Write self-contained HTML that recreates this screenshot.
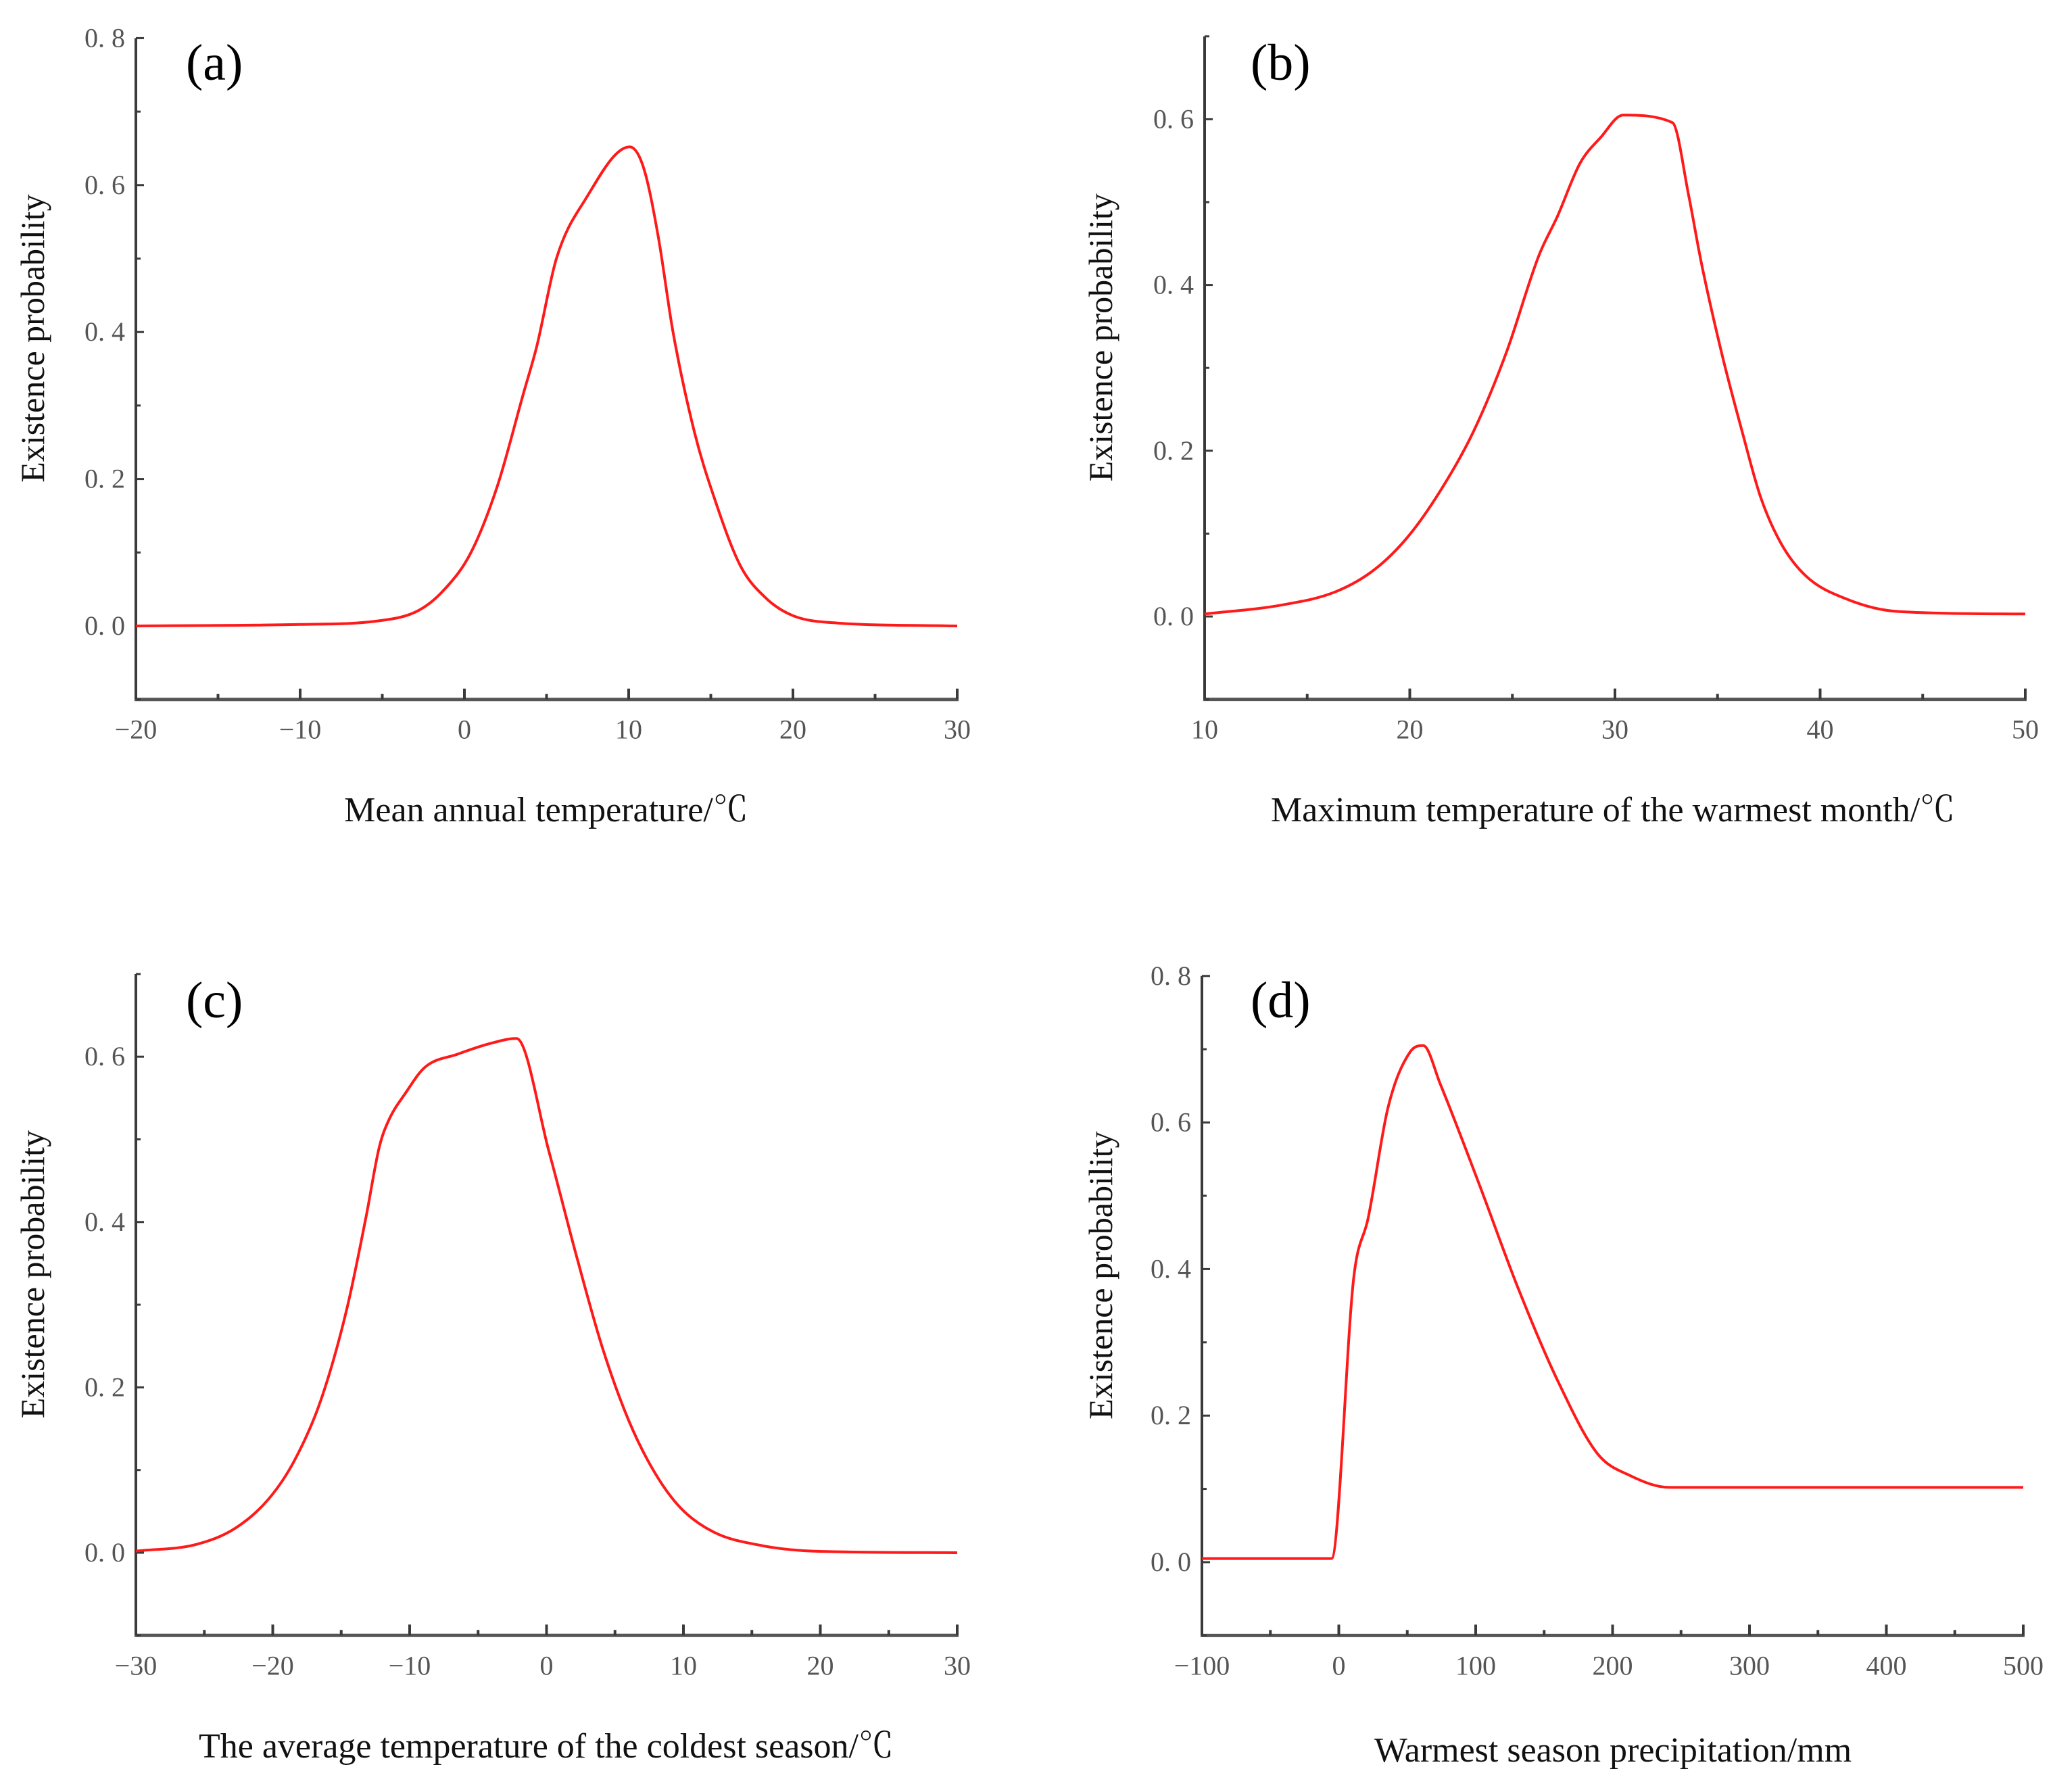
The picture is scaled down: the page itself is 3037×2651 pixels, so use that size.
<!DOCTYPE html>
<html><head><meta charset="utf-8">
<style>
html,body{margin:0;padding:0;background:#fff;}
svg{display:block;}
.tick{font-family:"Liberation Serif",serif;font-size:40px;fill:#555;}
.title{font-family:"Liberation Serif","Noto Serif CJK SC",serif;font-size:52px;fill:#111;}
.ytitle{font-family:"Liberation Serif",serif;font-size:50px;fill:#111;}
.plabel{font-family:"Liberation Serif",serif;font-size:76px;fill:#000;}
</style></head>
<body>
<svg id="chart" width="3037" height="2651" viewBox="0 0 3037 2651" xmlns="http://www.w3.org/2000/svg"></svg>
<script>
// Panel (a) data
const aX = [-20,-10,-5.2,-2.8,-1.2,0.4,2,3.6,4.4,5.6,7.35,10.06,10.9,11.8,12.7,14,15.2,16.8,18.4,20,22.7,30];
const aY = [0,0.002,0.007,0.021,0.05,0.10,0.19,0.317,0.38,0.50,0.58,0.652,0.624,0.53,0.40,0.264,0.175,0.082,0.037,0.014,0.004,0];
// Panel (b) data
const bX = [10,13.8,16.4,18.3,19.9,21.5,23.1,24.7,26.3,27.2,28.3,29.3,30.4,32.8,33.6,34.2,35.2,36.2,37.1,38.1,39.3,41.3,43.8,50];
const bY = [0.003,0.014,0.03,0.057,0.096,0.152,0.223,0.318,0.436,0.483,0.547,0.578,0.605,0.596,0.507,0.428,0.318,0.223,0.144,0.088,0.049,0.021,0.006,0.003];
// Panel (c) data
const cX = [-30,-25.6,-22.7,-20.3,-18.4,-16.5,-14.6,-13.2,-12.2,-11.5,-10.3,-8.9,-6.5,-4.1,-2.2,0.2,2.2,4.1,6.0,7.9,9.8,12.2,15.6,19.4,30];
const cY = [0.002,0.01,0.03,0.065,0.112,0.184,0.294,0.405,0.492,0.524,0.556,0.587,0.603,0.616,0.622,0.484,0.358,0.247,0.16,0.097,0.054,0.025,0.009,0.002,0];
// Panel (d) data
const dX = [-100,-5.3,11,21.5,35.9,52,61.7,74.2,102.9,131.6,160.3,189,213,241.6,500];
const dY = [0.005,0.005,0.39,0.47,0.62,0.696,0.705,0.652,0.514,0.371,0.246,0.148,0.118,0.102,0.102];
// Tick labels
const aXTicks = [-20,-10,0,10,20,30];
const bXTicks = [10,20,30,40,50];
const cXTicks = [-30,-20,-10,0,10,20,30];
const dXTicks = [-100,0,100,200,300,400,500];
const yTicks8 = ["0. 0","0. 2","0. 4","0. 6","0. 8"];
const yTicks6 = ["0. 0","0. 2","0. 4","0. 6"];

const NS = "http://www.w3.org/2000/svg";
const svg = document.getElementById('chart');
function mk(tag, attrs, parent){
  const e = document.createElementNS(NS, tag);
  for (const k in attrs) e.setAttribute(k, attrs[k]);
  (parent||svg).appendChild(e);
  return e;
}
// monotone cubic path through pixel points
function monoPath(P){
  const n = P.length;
  const dx=[], dy=[], m=[];
  for (let i=0;i<n-1;i++){ dx[i]=P[i+1][0]-P[i][0]; dy[i]=P[i+1][1]-P[i][1]; m[i]=dy[i]/dx[i]; }
  const t=[m[0]];
  for (let i=1;i<n-1;i++){ t[i] = (m[i-1]*m[i] <= 0) ? 0 : (m[i-1]+m[i])/2; }
  t[n-1]=m[n-2];
  for (let i=0;i<n-1;i++){
    if (m[i]===0){ t[i]=0; t[i+1]=0; continue; }
    const a=t[i]/m[i], b=t[i+1]/m[i], s=a*a+b*b;
    if (s>9){ const k=3/Math.sqrt(s); t[i]=k*a*m[i]; t[i+1]=k*b*m[i]; }
  }
  let d='M'+P[0][0].toFixed(1)+' '+P[0][1].toFixed(1);
  for (let i=0;i<n-1;i++){
    const h=dx[i]/3;
    d+=' C'+(P[i][0]+h).toFixed(1)+' '+(P[i][1]+t[i]*h).toFixed(1)+' '+(P[i+1][0]-h).toFixed(1)+' '+(P[i+1][1]-t[i+1]*h).toFixed(1)+' '+P[i+1][0].toFixed(1)+' '+P[i+1][1].toFixed(1);
  }
  return d;
}

const panels = [
  {id:'a', px0:201, px1:1416, xmin:-20, xmax:30, xMinor:5, yZero:926, yPerUnit:1087, ymin:-0.1, ymax:0.8,
   xs:aX, ys:aY, xt:aXTicks, yt:yTicks8, title:"Mean annual temperature/\u2103", tx:808, ty:1215, yTitleX:48, lbl:[275,118]},
  {id:'b', px0:1782, px1:2996, xmin:10, xmax:50, xMinor:5, yZero:912, yPerUnit:1226, ymin:-0.1, ymax:0.7,
   xs:bX, ys:bY, xt:bXTicks, yt:yTicks6, title:"Maximum temperature of the warmest month/\u2103", tx:2386, ty:1215, yTitleX:1628, lbl:[1850,118]},
  {id:'c', px0:201, px1:1416, xmin:-30, xmax:30, xMinor:5, yZero:2297, yPerUnit:1223, ymin:-0.1, ymax:0.7,
   xs:cX, ys:cY, xt:cXTicks, yt:yTicks6, title:"The average temperature of the coldest season/\u2103", tx:808, ty:2600, yTitleX:48, lbl:[275,1505]},
  {id:'d', px0:1778, px1:2993, xmin:-100, xmax:500, xMinor:50, yZero:2311, yPerUnit:1084, ymin:-0.1, ymax:0.8,
   xs:dX, ys:dY, xt:dXTicks, yt:yTicks8, title:"Warmest season precipitation/mm", tx:2386, ty:2606, yTitleX:1628, lbl:[1850,1505]}
];

panels.forEach(p=>{
  const g = mk('g', {});
  
  
  const sx = v => p.px0 + (v - p.xmin) / (p.xmax - p.xmin) * (p.px1 - p.px0);
  const sy = v => p.yZero - v * p.yPerUnit;
  const top = sy(p.ymax), bot = sy(p.ymin);

  const ya = mk('line', {x1:p.px0, y1:top, x2:p.px0, y2:bot, stroke:'#3a3a3a', 'stroke-width':4}, g);
  
  
  const xa = mk('line', {x1:p.px0-2, y1:bot, x2:p.px1+2, y2:bot, stroke:'#555', 'stroke-width':5}, g);
  
  

  for (let i = Math.round(p.ymin*10); i <= Math.round(p.ymax*10); i++){
    const y = sy(i/10);
    const major = (i % 2 === 0);
    const t = mk('line', {x1:p.px0, y1:y, x2:p.px0 + (major?12:7), y2:y, stroke:'#3a3a3a', 'stroke-width':3}, g);
    
    
  }
  p.yt.forEach((lab, i)=>{
    const y = sy(i*0.2);
    const t = mk('text', {x:p.px0 - 16, y:y + 13, 'text-anchor':'end', class:'tick'}, g);
    t.textContent = lab;
    
    
  });

  const step = p.xt[1] - p.xt[0];
  for (let v = p.xmin; v <= p.xmax + 1e-9; v += p.xMinor){
    const x = sx(v);
    const major = Math.abs(((v - p.xmin) / step) - Math.round((v - p.xmin) / step)) < 1e-6;
    const t = mk('line', {x1:x, y1:bot, x2:x, y2:bot - (major?16:8), stroke:'#3a3a3a', 'stroke-width':4}, g);
    
    
  }
  p.xt.forEach(v=>{
    const t = mk('text', {x:sx(v), y:bot + 58, 'text-anchor':'middle', class:'tick'}, g);
    t.textContent = (v < 0 ? '\u2212' + Math.abs(v) : String(v));
    
    
  });

  const pts = p.xs.map((v,i)=>[sx(v), sy(p.ys[i])]);
  const path = mk('path', {d:monoPath(pts), fill:'none', stroke:'#ff1a1a', 'stroke-width':4, 'stroke-linejoin':'round'}, g);
  
  

  const xt = mk('text', {x:p.tx, y:p.ty, 'text-anchor':'middle', class:'title'}, g);
  xt.textContent = p.title;
  
  
  const cy = (top + bot) / 2 - 45;
  const yt = mk('text', {x:p.yTitleX, y:cy, 'text-anchor':'middle', class:'ytitle', transform:'rotate(-90 ' + (p.yTitleX) + ' ' + cy + ')', dy:'17'}, g);
  yt.textContent = 'Existence probability';
  
  
  const pl = mk('text', {x:p.lbl[0], y:p.lbl[1], class:'plabel'}, g);
  pl.textContent = '(' + p.id + ')';
  
  
});
</script>
</body></html>
